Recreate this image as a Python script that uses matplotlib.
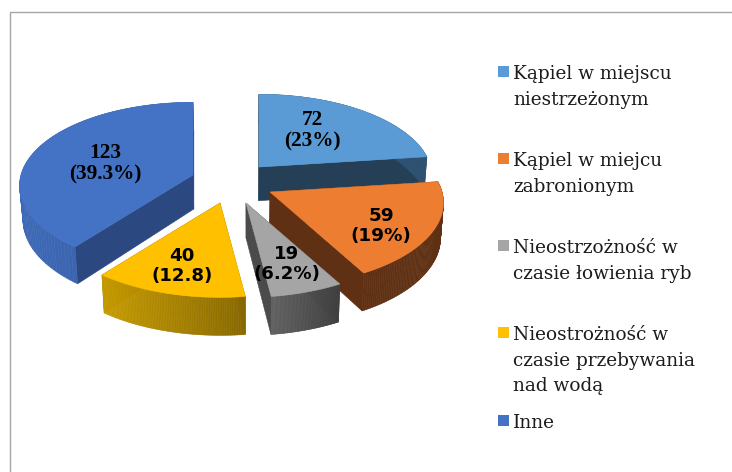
import numpy as np
import matplotlib
matplotlib.use("Agg")
import matplotlib.pyplot as plt
from matplotlib.colors import to_rgb
from matplotlib.patches import Polygon, Rectangle

# ---- data
categories = ["Kąpiel w miejscu\nniestrzeżonym",
              "Kąpiel w miejcu\nzabronionym",
              "Nieostrzożność w\nczasie łowienia ryb",
              "Nieostrożność w\nczasie przebywania\nnad wodą",
              "Inne"]
values = [72, 59, 19, 40, 123]
value_labels = ["72\n(23%)", "59\n(19%)", "19\n(6.2%)", "40\n(12.8)", "123\n(39.3%)"]

# ---- style / layout
top_colors = ["#5B9BD5", "#ED7D31", "#A5A5A5", "#FFC000", "#4472C4"]
cut_colors = ["#254056", "#5F3013", "#4B4B4B", "#8A6A00", "#2B4880"]
rim_left = ["#2F5373", "#5F3013", "#606060", "#C79B00", "#3E69B6"]
rim_right = ["#2F5373", "#5F3013", "#3F3F3F", "#876800", "#345CA3"]
anchor_x = [259, 270, 246, 220, 193]     # exploded slice apexes, in pixels
anchor_y = [167, 192, 203, 203, 175]
draw_order = [0, 4, 1, 3, 2]
label_x = [312, 381, 287, 182, 105]
label_y = [131, 226, 264, 266, 164]
label_family = ["Liberation Serif", "DejaVu Sans", "DejaVu Sans", "DejaVu Sans", "Liberation Serif"]
label_size = [15.3, 13.2, 13.1, 13.1, 15.3]
legend_top = [79, 166, 253, 340, 428]
LINE = 25.6
RX, RY, PERSP = 172.0, 83.5, 0.13

fig = plt.figure(figsize=(7.32, 4.72), dpi=100, facecolor="white")
ax = fig.add_axes([0, 0, 1, 1])
ax.set_xlim(0, 732)
ax.set_ylim(472, 0)
ax.axis("off")


def project(theta, ax0, ay0):
    c = np.cos(theta)
    s = np.sin(theta)
    f = 1 - PERSP * c
    return ax0 + RX * s * f, ay0 - RY * c * f


def extrude(x, y):
    return x + (250 - x) * 0.015, y + np.clip(33 + (y - 150) * 0.04, 30, 38)


def poly(xs, ys, color, z):
    pts = np.column_stack([xs, ys])
    ax.add_patch(Polygon(pts, closed=True, facecolor=color, edgecolor=color,
                         linewidth=0.4, zorder=z))


edges = np.concatenate([[0], np.cumsum(values)]) / np.sum(values) * 2 * np.pi

for order, i in enumerate(draw_order):
    z = 2 + order * 5
    t = np.linspace(edges[i], edges[i + 1], 90)
    x0, y0 = anchor_x[i], anchor_y[i]
    px, py = project(t, x0, y0)

    # cut faces
    for ex, ey in [(px[0], py[0]), (px[-1], py[-1])]:
        bx0, by0 = extrude(np.float64(x0), np.float64(y0))
        bx1, by1 = extrude(ex, ey)
        poly([x0, ex, bx1, bx0], [y0, ey, by1, by0], cut_colors[i], z)

    # curved rim, shaded from left to right
    qx, qy = extrude(px, py)
    left, right = np.array(to_rgb(rim_left[i])), np.array(to_rgb(rim_right[i]))
    span = max(px.max() - px.min(), 1)
    for j in range(len(t) - 1):
        w = (0.5 * (px[j] + px[j + 1]) - px.min()) / span
        col = tuple(left + (right - left) * w)
        poly([px[j], px[j + 1], qx[j + 1], qx[j]],
             [py[j], py[j + 1], qy[j + 1], qy[j]], col, z + 1)

    # top face
    poly(np.r_[x0, px], np.r_[y0, py], top_colors[i], z + 2)

    ax.text(label_x[i], label_y[i], value_labels[i], family=label_family[i],
            fontsize=label_size[i], fontweight="bold", color="black",
            ha="center", va="center", linespacing=1.08, zorder=60)

# legend
for name, col, base in zip(categories, top_colors, legend_top):
    ax.add_patch(Rectangle((498, base - 13), 11, 11, facecolor=col, edgecolor="none"))
    for k, line in enumerate(name.split("\n")):
        ax.text(513, base + k * LINE, line, family="DejaVu Serif", fontsize=13.3,
                color="#1c1c1c", ha="left", va="baseline")

# frame
ax.plot([10, 10, 732], [472, 12, 12], color="#A6A6A6", lw=1.0, solid_joinstyle="miter")

fig.savefig("out.png", dpi=100, facecolor="white")
